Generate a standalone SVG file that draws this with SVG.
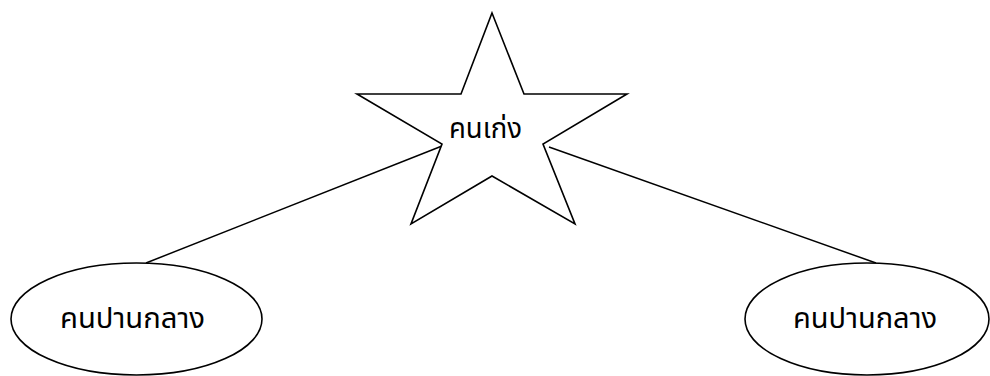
<svg xmlns="http://www.w3.org/2000/svg" width="990" height="376" viewBox="0 0 990 376">
<style>
.shape{fill:#fff;stroke:#000;stroke-width:1.6}
.edge{fill:none;stroke:#000;stroke-width:1.5}
.lbl{font-family:"Noto Sans Thai","Noto Serif Thai","DejaVu Sans","Noto Sans",sans-serif;font-size:28px;fill:#000;text-anchor:middle}
</style>
<rect width="990" height="376" fill="#fff"/>
<g id="connectors">
<line class="edge" x1="442" y1="146" x2="146" y2="263"/>
<line class="edge" x1="549" y1="147" x2="876" y2="263"/>
</g>
<g id="star">
<polygon class="shape" points="492,13 524,94 627,94 543,144 575,224 492,176 411,224 442,144 357,94 461,94"/>
<text class="lbl" x="485.5" y="138" textLength="73" lengthAdjust="spacingAndGlyphs">คนเก่ง</text>
</g>
<g id="left">
<ellipse class="shape" cx="136.5" cy="319" rx="125.5" ry="56"/>
<text class="lbl" x="132.5" y="328" textLength="145" lengthAdjust="spacingAndGlyphs">คนปานกลาง</text>
</g>
<g id="right">
<ellipse class="shape" cx="867" cy="319" rx="122" ry="56"/>
<text class="lbl" x="865" y="328" textLength="144" lengthAdjust="spacingAndGlyphs">คนปานกลาง</text>
</g>
</svg>
